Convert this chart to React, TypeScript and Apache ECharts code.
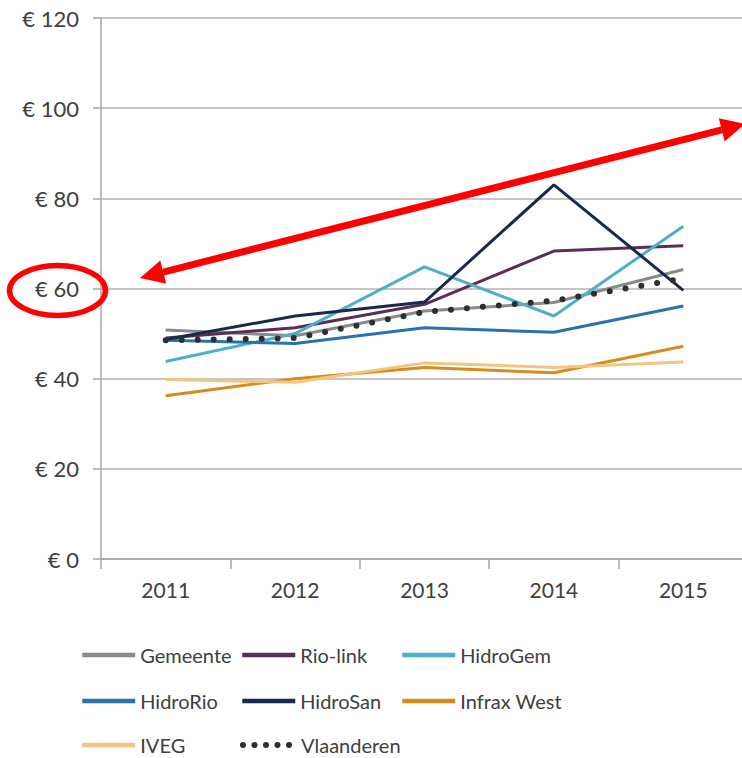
import React, { useEffect, useRef } from "react";
import * as echarts from "echarts";

const years = ["2011", "2012", "2013", "2014", "2015"];
const yTicks = { min: 0, max: 120, interval: 20 };

const seriesNames = ["Gemeente", "Rio-link", "HidroGem", "HidroRio", "HidroSan", "Infrax West", "IVEG", "Vlaanderen"];
const gemeente = [50.8, 49.5, 55.0, 56.9, 64.2];
const rioLink = [49.0, 51.3, 56.5, 68.3, 69.5];
const hidroGem = [43.8, 50.0, 64.8, 53.9, 73.8];
const hidroRio = [48.5, 47.8, 51.3, 50.3, 56.1];
const hidroSan = [48.7, 53.9, 57.0, 83.0, 59.6];
const infraxWest = [36.2, 40.0, 42.5, 41.3, 47.2];
const iveg = [39.8, 39.2, 43.5, 42.5, 43.7];
const vlaanderen = [48.5, 49.0, 54.8, 57.3, 62.2];

const seriesValues = [gemeente, rioLink, hidroGem, hidroRio, hidroSan, infraxWest, iveg, vlaanderen];
const seriesColors = ["#8a8a8a", "#5a2f55", "#4db0c6", "#2b72ad", "#172a4e", "#d38d1c", "#f3c582", "#2e2e2e"];

const FONT = "Lato";
const CANVAS_W = 760; // wider than the viewport so the last category runs past the right edge, as in the reference

export default function App() {
  const ref = useRef<HTMLDivElement>(null);

  useEffect(() => {
    if (!ref.current) return;
    const chart = echarts.init(ref.current, null, { renderer: "svg" });

    const series: any[] = seriesNames.map((name, i) => {
      const isDot = name === "Vlaanderen";
      return {
        name,
        type: "line",
        data: seriesValues[i],
        symbol: "none",
        z: isDot ? 10 : 2 + i * 0.1,
        lineStyle: isDot
          ? { color: seriesColors[i], width: 6, type: [0, 16], cap: "round" }
          : { color: seriesColors[i], width: 3 },
        itemStyle: { color: seriesColors[i] },
      };
    });

    const colX = [80, 240, 400];
    const rowY = [652, 698, 742];
    const legends = seriesNames.map((name, i) => {
      const col = i % 3;
      const row = Math.floor(i / 3);
      const isDot = name === "Vlaanderen";
      return {
        show: true,
        left: colX[col],
        top: rowY[row] - 7,
        padding: 0,
        itemWidth: 53,
        itemHeight: 14,
        itemGap: 0,
        selectedMode: false,
        itemStyle: { opacity: 0 },
        lineStyle: { width: 4.5 },
        textStyle: { fontFamily: FONT, fontSize: 20, lineHeight: 18, color: "#404040" },
        data: [
          isDot
            ? { name, lineStyle: { type: [0, 11.5], width: 6, cap: "round" } }
            : { name },
        ],
      };
    });

    const tipL = [140, 278];
    const tipR = [745, 124];
    const dx = tipR[0] - tipL[0];
    const dy = tipR[1] - tipL[1];
    const len = Math.sqrt(dx * dx + dy * dy);
    const ux = dx / len, uy = dy / len;
    const nx = -uy, ny = ux;
    const hl = 24, hw = 12;
    const bL = [tipL[0] + hl * ux, tipL[1] + hl * uy];
    const bR = [tipR[0] - hl * ux, tipR[1] - hl * uy];

    chart.setOption({
      animation: false,
      grid: { left: 101, top: 18, right: CANVAS_W - 748, height: 541, containLabel: false },
      legend: legends,
      xAxis: {
        type: "category",
        data: years,
        boundaryGap: true,
        axisLine: { lineStyle: { color: "#a6a6a6", width: 1.5 } },
        axisTick: { show: true, length: 10, lineStyle: { color: "#a6a6a6", width: 1.5 } },
        axisLabel: { fontFamily: FONT, fontSize: 21, color: "#404040", margin: 20 },
      },
      yAxis: {
        type: "value",
        min: yTicks.min,
        max: yTicks.max,
        interval: yTicks.interval,
        axisLine: { show: true, lineStyle: { color: "#a6a6a6", width: 1.5 } },
        axisTick: { show: true, length: 8, lineStyle: { color: "#a6a6a6", width: 1.5 } },
        splitLine: { show: true, lineStyle: { color: "#b3b3b3", width: 1.5 } },
        axisLabel: {
          fontFamily: FONT,
          fontSize: 22,
          color: "#404040",
          margin: 22,
          formatter: (v: number) => "€ " + v,
        },
      },
      series,
      graphic: [
        {
          type: "ellipse",
          shape: { cx: 57.5, cy: 290.5, rx: 48, ry: 25 },
          style: { fill: "none", stroke: "#ff0000", lineWidth: 5.5 },
          z: 100,
        },
        {
          type: "line",
          shape: { x1: bL[0], y1: bL[1], x2: bR[0], y2: bR[1] },
          style: { stroke: "#ff0000", lineWidth: 7 },
          z: 100,
        },
        {
          type: "polygon",
          shape: {
            points: [
              tipL,
              [bL[0] + hw * nx, bL[1] + hw * ny],
              [bL[0] - hw * nx, bL[1] - hw * ny],
            ],
          },
          style: { fill: "#ff0000" },
          z: 100,
        },
        {
          type: "polygon",
          shape: {
            points: [
              tipR,
              [bR[0] + hw * nx, bR[1] + hw * ny],
              [bR[0] - hw * nx, bR[1] - hw * ny],
            ],
          },
          style: { fill: "#ff0000" },
          z: 100,
        },
      ],
    });

    return () => chart.dispose();
  }, []);

  return (
    <div style={{ position: "fixed", left: 0, top: 0, width: 742, height: 758, overflow: "hidden", background: "#ffffff" }}>
      <div ref={ref} style={{ width: CANVAS_W, height: 758 }} />
    </div>
  );
}
